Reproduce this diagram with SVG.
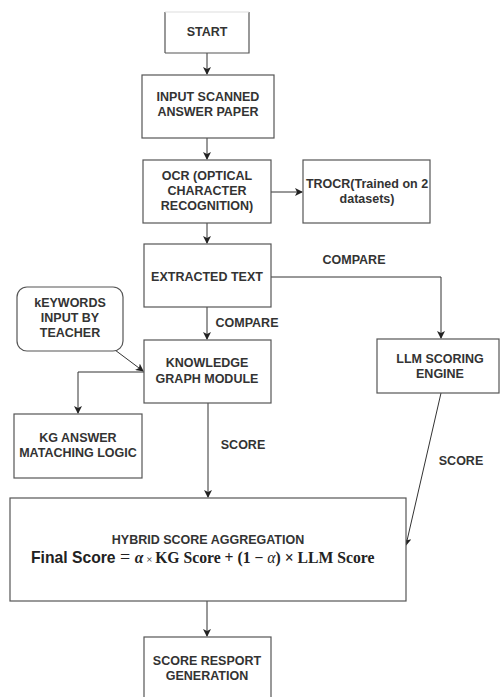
<svg xmlns="http://www.w3.org/2000/svg" width="500" height="697" viewBox="0 0 500 697">
<defs>
<marker id="ah" markerWidth="8" markerHeight="8" refX="7" refY="4" orient="auto" markerUnits="userSpaceOnUse">
<path d="M0,0 L8,4 L0,8 L2,4 Z" fill="#222"/>
</marker>
<style>
.box{fill:#fff;stroke:#555;stroke-width:1.2}
.t{font-family:"Liberation Sans",Arial,sans-serif;font-weight:bold;font-size:12.5px;fill:#333;text-anchor:middle}
.c{fill:none;stroke:#333;stroke-width:1}
</style>
</defs>
<rect width="500" height="697" fill="#fff"/>
<g id="connectors">
<line class="c" x1="207" y1="53" x2="207" y2="74" marker-end="url(#ah)"/>
<line class="c" x1="207" y1="138" x2="207" y2="159" marker-end="url(#ah)"/>
<line class="c" x1="271" y1="192" x2="302" y2="192" marker-end="url(#ah)"/>
<line class="c" x1="207" y1="223" x2="207" y2="243" marker-end="url(#ah)"/>
<polyline class="c" points="271,277 441,277 441,338" marker-end="url(#ah)"/>
<line class="c" x1="207" y1="307" x2="207" y2="339" marker-end="url(#ah)"/>
<line class="c" x1="115" y1="350" x2="143" y2="371" marker-end="url(#ah)"/>
<polyline class="c" points="144,372 78,372 78,413" marker-end="url(#ah)"/>
<line class="c" x1="208" y1="403" x2="208" y2="497" marker-end="url(#ah)"/>
<line class="c" x1="441" y1="393" x2="406" y2="545" marker-end="url(#ah)"/>
<line class="c" x1="207" y1="601" x2="207" y2="636" marker-end="url(#ah)"/>
<text class="t" x="354" y="264">COMPARE</text>
<text class="t" x="247" y="327">COMPARE</text>
<text class="t" x="243" y="449">SCORE</text>
<text class="t" x="461" y="465">SCORE</text>
</g>
<g id="start">
<path d="M165,53 L165,12 M249,12 L249,53 L165,53" class="box"/>
<line x1="165" y1="12" x2="249" y2="12" stroke="#ddd" stroke-width="1"/>
<text class="t" x="207" y="36">START</text>
</g>
<g id="input">
<rect class="box" x="142" y="75" width="132" height="63"/>
<text class="t" x="208" y="101">INPUT SCANNED</text>
<text class="t" x="208" y="116">ANSWER PAPER</text>
</g>
<g id="ocr">
<rect class="box" x="143" y="160" width="128" height="63"/>
<text class="t" x="207" y="180">OCR (OPTICAL</text>
<text class="t" x="207" y="195">CHARACTER</text>
<text class="t" x="207" y="210">RECOGNITION)</text>
</g>
<g id="trocr">
<rect class="box" x="303" y="160" width="127" height="63"/>
<text class="t" x="367" y="188">TROCR(Trained on 2</text>
<text class="t" x="367" y="203">datasets)</text>
</g>
<g id="extracted">
<rect class="box" x="144" y="244" width="127" height="63"/>
<text class="t" x="207" y="281">EXTRACTED TEXT</text>
</g>
<g id="keywords">
<rect class="box" x="17" y="287" width="106" height="64" rx="10"/>
<text class="t" x="70" y="307">kEYWORDS</text>
<text class="t" x="70" y="322">INPUT BY</text>
<text class="t" x="70" y="337">TEACHER</text>
</g>
<g id="kg">
<rect class="box" x="144" y="340" width="127" height="63"/>
<text class="t" x="207" y="367">KNOWLEDGE</text>
<text class="t" x="207" y="383">GRAPH MODULE</text>
</g>
<g id="llm">
<rect class="box" x="377" y="339" width="122" height="54"/>
<text class="t" x="440" y="363">LLM SCORING</text>
<text class="t" x="440" y="378">ENGINE</text>
</g>
<g id="kganswer">
<rect class="box" x="14" y="414" width="128" height="64"/>
<text class="t" x="78" y="442">KG ANSWER</text>
<text class="t" x="78" y="457">MATACHING LOGIC</text>
</g>
<g id="hybrid">
<rect class="box" x="10" y="498" width="396" height="103"/>
<text class="t" x="208" y="544">HYBRID SCORE AGGREGATION</text>
<text x="31" y="563" font-size="15.7" fill="#222"><tspan font-family="Liberation Sans,Arial,sans-serif" font-weight="bold">Final Score</tspan><tspan font-family="Liberation Serif,serif" font-size="18"> = </tspan><tspan font-family="Liberation Serif,serif" font-style="italic" font-weight="bold">α</tspan><tspan font-family="Liberation Serif,serif" font-size="11"> × </tspan><tspan font-family="Liberation Serif,serif" font-weight="bold">KG Score + (1 − </tspan><tspan font-family="Liberation Serif,serif" font-style="italic">α</tspan><tspan font-family="Liberation Serif,serif" font-weight="bold">) × LLM Score</tspan></text>
</g>
<g id="report">
<rect class="box" x="144" y="637" width="127" height="70"/>
<text class="t" x="207" y="665">SCORE RESPORT</text>
<text class="t" x="207" y="680">GENERATION</text>
</g>
</svg>
